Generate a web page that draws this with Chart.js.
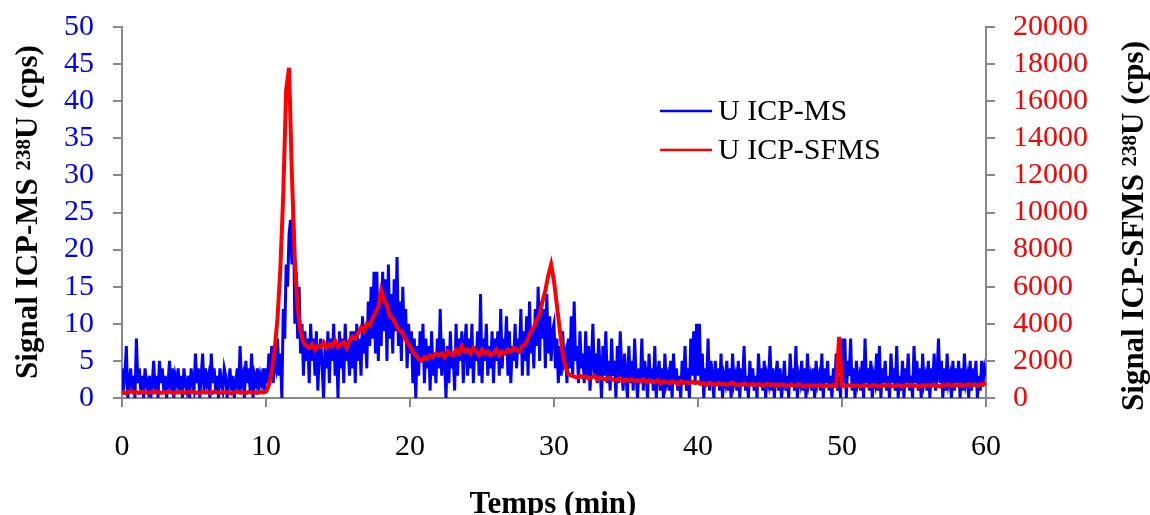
<!DOCTYPE html>
<html>
<head>
<meta charset="utf-8">
<script src="https://cdn.jsdelivr.net/npm/chart.js@4"></script>
<style>
  html, body { margin:0; padding:0; background:#fff; overflow:hidden; }
  #wrap { width:1150px; height:525px; margin-top:-10px; }
</style>
</head>
<body>
<div id="wrap"><canvas id="chart"></canvas></div>
<script>
// sampling steps (min)
const STEP_MS   = 0.1;
const STEP_SFMS = 0.2;

// U ICP-MS, 238U counts (cps), one value every 0.1 min from 0 to 60
const icpms = [
  4, 1, 3, 7, 0, 2, 4, 1, 3, 0, 8, 2, 4, 1, 3, 0, 4, 2, 1, 3,
  0, 2, 5, 1, 3, 0, 5, 2, 4, 1, 3, 0, 2, 5, 1, 4, 0, 3, 2, 4,
  1, 3, 0, 4, 2, 1, 3, 0, 4, 2, 1, 6, 2, 4, 0, 3, 6, 1, 4, 2,
  3, 0, 6, 2, 4, 1, 3, 0, 4, 2, 1, 4, 3, 0, 2, 4, 1, 3, 0, 2,
  4, 1, 7, 2, 3, 0, 5, 2, 4, 1, 6, 0, 3, 2, 4, 1, 3, 2, 4, 1,
  4, 2, 6, 3, 7, 2, 5, 4, 8, 3, 6, 0, 12, 8, 18, 15, 22, 24, 18, 26,
  10, 17, 8, 15, 6, 10, 3, 9, 5, 8, 2, 10, 5, 8, 3, 9, 1, 6, 8, 4,
  0, 7, 4, 9, 2, 8, 5, 10, 3, 7, 0, 9, 4, 8, 2, 10, 5, 7, 3, 9,
  4, 9, 2, 10, 5, 8, 3, 11, 6, 9, 4, 13, 7, 15, 8, 17, 6, 17, 5, 14,
  7, 17, 9, 16, 5, 18, 8, 14, 6, 16, 9, 19, 7, 13, 5, 15, 8, 12, 4, 10,
  6, 9, 2, 8, 0, 7, 3, 9, 5, 10, 2, 8, 4, 7, 1, 9, 3, 6, 2, 8,
  4, 12, 3, 8, 5, 0, 7, 2, 9, 4, 6, 1, 10, 3, 8, 5, 9, 2, 7, 10,
  3, 8, 4, 10, 2, 7, 5, 9, 3, 14, 2, 8, 5, 10, 3, 7, 4, 9, 2, 8,
  5, 9, 3, 12, 4, 8, 6, 11, 3, 9, 2, 7, 5, 10, 4, 8, 6, 12, 3, 9,
  5, 11, 3, 13, 6, 9, 4, 12, 7, 15, 5, 13, 8, 12, 4, 14, 6, 11, 5, 9,
  10, 4, 8, 2, 7, 3, 9, 5, 6, 2, 8, 4, 11, 3, 13, 5, 7, 2, 9, 4,
  6, 2, 9, 3, 7, 1, 5, 10, 3, 6, 2, 8, 4, 0, 7, 3, 9, 2, 5, 1,
  8, 3, 5, 0, 7, 2, 9, 4, 1, 6, 3, 0, 7, 2, 5, 1, 8, 3, 0, 4,
  2, 8, 1, 5, 3, 0, 6, 2, 4, 1, 7, 0, 3, 5, 1, 4, 0, 6, 2, 3,
  1, 5, 0, 6, 2, 4, 1, 3, 0, 5, 2, 7, 1, 4, 0, 8, 3, 9, 2, 10,
  3, 10, 2, 6, 0, 4, 2, 8, 1, 5, 3, 0, 5, 2, 4, 1, 6, 0, 3, 2,
  5, 1, 4, 0, 6, 2, 3, 1, 5, 0, 4, 2, 7, 1, 3, 0, 5, 2, 4, 1,
  3, 0, 6, 2, 4, 1, 5, 0, 3, 2, 7, 1, 4, 0, 3, 5, 1, 4, 0, 2,
  5, 1, 3, 0, 6, 2, 4, 1, 7, 0, 3, 2, 5, 1, 4, 0, 6, 2, 3, 1,
  4, 0, 5, 2, 3, 1, 6, 0, 4, 2, 5, 1, 3, 0, 4, 2, 6, 1, 3, 0,
  8, 2, 8, 0, 5, 3, 8, 1, 4, 0, 5, 2, 3, 1, 5, 0, 8, 2, 4, 1,
  5, 0, 3, 2, 6, 1, 7, 0, 4, 2, 5, 1, 3, 0, 6, 2, 4, 1, 7, 0,
  3, 1, 5, 0, 4, 2, 6, 1, 3, 0, 7, 2, 5, 1, 4, 0, 6, 2, 3, 1,
  5, 0, 4, 2, 6, 1, 3, 8, 2, 5, 0, 4, 1, 6, 2, 3, 0, 5, 1, 4,
  2, 5, 0, 4, 1, 6, 2, 3, 0, 5, 1, 4, 2, 5, 0, 3, 1, 5, 2, 4,
  3
];

// U ICP-SFMS, 238U counts (cps), one value every 0.2 min from 0 to 60
const icpsfms = [
  350, 250, 300, 380, 280, 320, 260, 340, 300, 270,
  330, 290, 360, 260, 310, 280, 350, 300, 240, 320,
  290, 340, 270, 310, 360, 280, 300, 250, 330, 290,
  320, 260, 350, 300, 270, 330, 280, 310, 240, 300,
  340, 280, 300, 260, 330, 290, 310, 270, 320, 300,
  350, 700, 1400, 2600, 4300, 7000, 11000, 16600, 17800, 12000,
  7500, 4800, 3600, 3000, 2800, 2700, 2900, 2600, 2800, 2750,
  3000, 2700, 2900, 2800, 3100, 2750, 2900, 3000, 2700, 3100,
  3300, 3200, 3500, 3800, 3600, 4000, 3900, 4300, 4600, 4900,
  5800, 5300, 5000, 4400, 4300, 4000, 3700, 3600, 3300, 3000,
  2800, 2500, 2300, 2100, 2000, 2200, 2100, 2300, 2200, 2400,
  2300, 2400, 2200, 2500, 2400, 2300, 2600, 2400, 2800, 2500,
  2600, 2400, 2700, 2500, 2300, 2600, 2400, 2500, 2300, 2400,
  2600, 2300, 2500, 2400, 2600, 2500, 2700, 2600, 2500, 2800,
  2900, 3200, 3600, 3800, 4200, 4500, 5200, 5800, 6600, 7200,
  6300, 5000, 3700, 2400, 1700, 1300, 1200, 1150, 1100, 1200,
  1100, 1150, 1050, 1100, 1200, 1000, 1100, 1050, 1000, 1100,
  1050, 950, 1000, 1050, 900, 1000, 950, 1000, 900, 950,
  900, 1000, 850, 950, 900, 850, 950, 800, 900, 850,
  800, 900, 850, 750, 900, 800, 850, 780, 870, 800,
  850, 750, 800, 700, 820, 760, 700, 800, 740, 780,
  700, 760, 820, 700, 740, 680, 780, 720, 700, 760,
  680, 740, 700, 660, 760, 700, 720, 650, 730, 690,
  700, 640, 720, 680, 660, 740, 680, 620, 700, 660,
  680, 640, 700, 660, 620, 690, 650, 700, 640, 3300,
  660, 620, 680, 700, 640, 690, 620, 670, 700, 650,
  640, 700, 660, 610, 690, 650, 720, 660, 630, 700,
  670, 620, 700, 660, 720, 640, 680, 600, 690, 650,
  700, 640, 720, 660, 620, 700, 680, 730, 650, 700,
  680, 720, 650, 700, 740, 680, 720, 660, 740, 700,
  850
];

const xTitle = "Temps (min)";
const leftTitle  = ["Signal ICP-MS ", "238", "U (cps)"];
const rightTitle = ["Signal ICP-SFMS ", "238", "U (cps)"];

const SERIF = "'Liberation Serif', 'Times New Roman', serif";
const AXIS  = "#888888";
const BLUE  = "#0000ff";
const RED   = "#ff0000";
const DY = 10; // canvas is shifted up by this much

const toPoints = (arr, step) => arr.map((v, i) => ({ x: +(i * step).toFixed(1), y: v }));

// rotated title with a superscript mass number
function drawRotTitle(ctx, parts, bx, cy) {
  const big = "bold 31px " + SERIF, small = "bold 21px " + SERIF;
  ctx.save();
  ctx.translate(bx, cy);
  ctx.rotate(-Math.PI / 2);
  ctx.fillStyle = "#000";
  ctx.textBaseline = "alphabetic";
  ctx.textAlign = "left";
  ctx.font = big;   const w0 = ctx.measureText(parts[0]).width;
  ctx.font = small; const w1 = ctx.measureText(parts[1]).width;
  ctx.font = big;   const w2 = ctx.measureText(parts[2]).width;
  let x = -(w0 + w1 + w2) / 2;
  ctx.font = big;   ctx.fillText(parts[0], x, 0); x += w0;
  ctx.font = small; ctx.fillText(parts[1], x, -7); x += w1;
  ctx.font = big;   ctx.fillText(parts[2], x, 0);
  ctx.restore();
}

const decor = {
  id: "decor",
  afterDraw(chart) {
    const ctx = chart.ctx;
    ctx.save();
    ctx.font = "bold 31px " + SERIF;
    ctx.fillStyle = "#000";
    ctx.textAlign = "center";
    ctx.textBaseline = "alphabetic";
    ctx.fillText(xTitle, 553, 513 + DY);
    ctx.restore();

    drawRotTitle(ctx, leftTitle, 37, 212 + DY);
    drawRotTitle(ctx, rightTitle, 1143, 226 + DY);

    // legend
    ctx.save();
    ctx.font = "30px " + SERIF;
    ctx.textBaseline = "middle";
    ctx.textAlign = "left";
    const rows = [111 + DY, 150 + DY];
    chart.data.datasets.forEach((ds, i) => {
      const y = rows[i];
      ctx.strokeStyle = ds.borderColor;
      ctx.lineWidth = 2.5;
      ctx.beginPath();
      ctx.moveTo(660, y);
      ctx.lineTo(712, y);
      ctx.stroke();
      ctx.fillStyle = "#000";
      ctx.fillText(ds.label, 718, y + 1);
    });
    ctx.restore();
  }
};

const tickFont = { family: SERIF, size: 30 };
const axisGrid = { drawOnChartArea: false, drawTicks: true, tickLength: 9, color: AXIS, lineWidth: 2 };

new Chart(document.getElementById("chart").getContext("2d"), {
  type: "line",
  data: {
    datasets: [
      {
        label: "U ICP-MS",
        data: toPoints(icpms, STEP_MS),
        yAxisID: "y",
        borderColor: BLUE,
        borderWidth: 3,
        pointRadius: 0,
        tension: 0,
        order: 2,
      },
      {
        label: "U ICP-SFMS",
        data: toPoints(icpsfms, STEP_SFMS),
        yAxisID: "y2",
        borderColor: RED,
        borderWidth: 4,
        pointRadius: 0,
        tension: 0,
        order: 1,
      },
    ],
  },
  options: {
    responsive: true,
    maintainAspectRatio: false,
    animation: false,
    layout: { padding: { top: 17, left: 0, right: 0, bottom: 0 } },
    plugins: { legend: { display: false }, tooltip: { enabled: false } },
    scales: {
      x: {
        type: "linear",
        min: 0, max: 60,
        border: { color: AXIS, width: 2 },
        grid: axisGrid,
        ticks: { stepSize: 10, autoSkip: false, color: "#000", font: tickFont, padding: 22, maxRotation: 0 },
        afterFit: s => { s.height = 117; },
      },
      y: {
        position: "left",
        min: 0, max: 50,
        border: { color: AXIS, width: 2 },
        grid: axisGrid,
        ticks: { stepSize: 5, autoSkip: false, color: BLUE, font: tickFont, padding: 19 },
        afterFit: s => { s.width = 122; },
      },
      y2: {
        position: "right",
        min: 0, max: 20000,
        border: { color: AXIS, width: 2 },
        grid: axisGrid,
        ticks: { stepSize: 2000, autoSkip: false, color: RED, font: tickFont, padding: 18, callback: v => String(v) },
        afterFit: s => { s.width = 164; },
      },
    },
  },
  plugins: [decor],
});
</script>
</body>
</html>
